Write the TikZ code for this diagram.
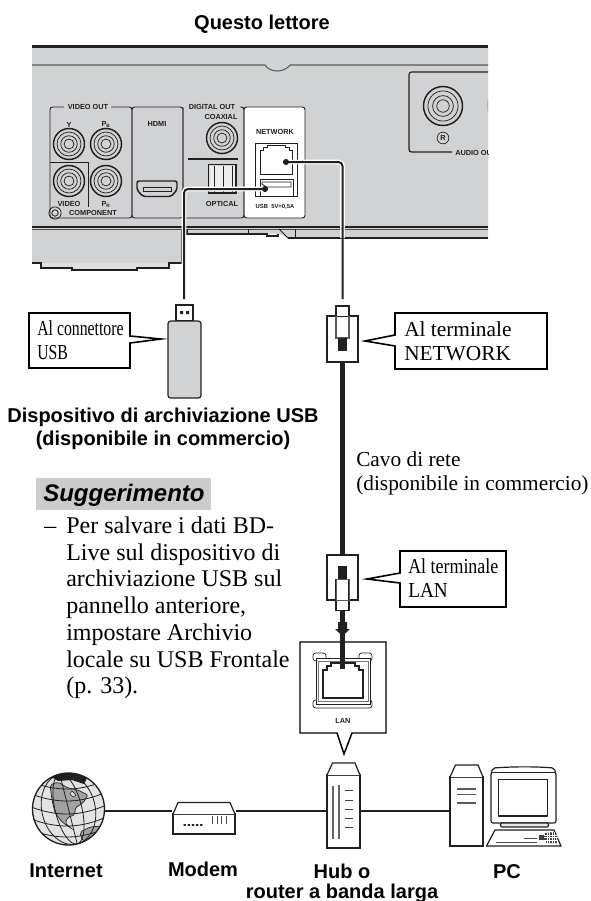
\documentclass[tikz,border=0pt]{standalone}
\usepackage{fontspec}
\setmainfont{Liberation Serif}
\newfontfamily\arialf{Liberation Sans}
\usetikzlibrary{calc}
\definecolor{panelgray}{HTML}{D1D2D4}
\definecolor{inkblack}{HTML}{231F20}
\definecolor{landgray}{HTML}{A0A2A4}
\definecolor{seagray}{HTML}{E2E3E4}
\newcommand{\pxfont}[1]{\fontsize{#1}{#1}\selectfont}
\newcommand{\jackat}[4]{% x,y,radius,colour
  \draw[#4,line width=1.1pt,fill=panelgray] (#1,#2) circle[radius=#3*0.75pt];
  \draw[#4,line width=.55pt] (#1,#2) circle[radius=#3*0.58pt];
  \draw[#4,line width=.55pt] (#1,#2) circle[radius=#3*0.40pt];
  \draw[#4,line width=.55pt] (#1,#2) circle[radius=#3*0.24pt];
}
\tikzset{
  x=0.75pt,y=-0.75pt,
  tiny/.style={font=\arialf\bfseries\pxfont{5.5pt},text=inkblack,inner sep=0pt,anchor=base},
  tinyw/.style={font=\arialf\bfseries\pxfont{4.4pt},text=inkblack,inner sep=0pt,anchor=base},
  captxt/.style={font=\arialf\bfseries\pxfont{15pt},text=black,inner sep=0pt,anchor=base,align=center},
  bodytxt/.style={font=\pxfont{18pt},text=black,inner sep=0pt,anchor=base west},
  calltxt/.style={font=\pxfont{16pt},text=black,inner sep=0pt,anchor=base west},
  ink/.style={draw=inkblack,line width=0.9pt,line join=round},
  thin ink/.style={draw=inkblack,line width=0.55pt},
  callout/.style={draw=black,fill=white,line width=1.2pt,line join=miter},
  plugbody/.style={draw=inkblack,fill=white,line width=0.9pt,inner sep=0pt},
  cable/.style={draw=inkblack,line width=1.5pt},
  halo/.style={draw=white,line width=3.6pt},
  fatcable/.style={draw=inkblack,line width=3.7pt},
}
\begin{document}
\begin{tikzpicture}
\useasboundingbox (0,0) rectangle (591,901);
\fill[white] (0,0) rectangle (591,901);

% ---------- panel
\fill[panelgray] (32,46) -- (488,46) -- (488,238) -- (288,238) -- (280,234) -- (187,234) -- (187,229) -- (182,229) -- (182,263) -- (32,263) -- cycle;
\fill[panelgray!70!white] (41,263) -- (169,263) -- (169,268) -- (137,268) -- (137,270) -- (72,270) -- (72,268) -- (41,268) -- cycle;
\draw[inkblack,line width=1.6pt] (32,46.5) -- (488,46.5);
\draw[black!65,line width=0.8pt] (32,65) -- (265,65) .. controls (270,73) and (284,73) .. (290,65) -- (488,65);
\draw[inkblack,line width=0.8pt] (32,227) -- (488,227);
\draw[black!70,line width=0.6pt] (32,229.5) -- (488,229.5);
\draw[inkblack,line width=0.9pt] (32,263) -- (41,263) -- (41,268) -- (72,268) -- (72,270) -- (137,270) -- (137,268) -- (169,268) -- (169,263) -- (182,263) -- (182,229);
\draw[inkblack,line width=0.9pt] (187,229) -- (187,234) -- (267,234) -- (267,236) -- (278,236) -- (278,234);
\draw[inkblack,line width=0.6pt] (248,229) -- (248,234);
\draw[inkblack,line width=0.7pt] (279,229) -- (288,238);
\draw[inkblack,line width=1.3pt] (288,238) -- (488,238);
\draw[inkblack,line width=0.6pt] (295,229) -- (295,238);

% ---------- section frames
\fill[white,rounded corners=2pt] (244,107) rectangle (305,218);
\draw[inkblack,line width=0.7pt,rounded corners=2pt] (64,107) -- (50,107) -- (50,218) -- (132,218) -- (132,107) -- (111,107);
\draw[inkblack,line width=0.7pt,rounded corners=2pt] (132,107) -- (132,218) -- (183,218) -- (183,107) -- cycle;
\draw[inkblack,line width=0.7pt,rounded corners=2pt] (183,107) -- (183,218) -- (244,218) -- (244,107) -- (240,107);
\draw[inkblack,line width=0.7pt,rounded corners=2pt] (244,107) -- (244,218) -- (305,218) -- (305,107) -- cycle;
\draw[inkblack,line width=0.7pt] (50,162) -- (88,162) -- (88,207);
\fill[panelgray] (64,105) rectangle (111,110) (186,105) rectangle (238,110);
\node[tiny] (tvideoout) at (88,109.5) {VIDEO OUT};
\node[tiny] (tdigital) at (212,109.5) {DIGITAL OUT};
\node[tiny] (tcoax) at (221,119) {COAXIAL};
\node[tiny] (thdmi) at (157,126) {HDMI};
\node[tiny] (tnet) at (275,134) {NETWORK};
\node[tiny] (ty) at (69,127) {Y};
\node[tiny] (tpb) at (106,126) {P\textsubscript{\fontsize{3.5pt}{4pt}\selectfont B}};
\node[tiny] (tvideo) at (69,206) {VIDEO};
\node[tiny] (tpr) at (106,206) {P\textsubscript{\fontsize{3.5pt}{4pt}\selectfont R}};
\node[tiny] (tcomp) at (93,215) {COMPONENT};
\node[tiny] (toptical) at (222,206) {OPTICAL};
\node[tinyw] (tusb) at (275,208) {USB\ \ 5V=0,5A};

\jackat{69}{144}{15.5}{inkblack}
\jackat{106}{144}{15.5}{inkblack}
\jackat{69}{181}{15.5}{inkblack}
\jackat{106}{181}{15.5}{inkblack}
\jackat{222}{138}{15.5}{inkblack}
\draw[inkblack,line width=.6pt] (55,213) circle[radius=4.6pt];
\draw[inkblack,line width=.6pt] (55,213) circle[radius=2.4pt];

% HDMI
\draw[inkblack,line width=1.1pt,fill=panelgray,rounded corners=1.5pt] (137,181) -- (177,181) -- (177,190) -- (171,196.5) -- (143,196.5) -- (137,190) -- cycle;
\draw[inkblack,line width=.5pt] (143,187) -- (171,187) -- (171,191) -- (143,191) -- cycle;

% digital
\draw[inkblack,line width=1.1pt] (188,159) -- (238,159);
\draw[inkblack,line width=.9pt] (208.5,164.5) rectangle (236,193);
\fill[panelgray!40!white] (210,166) rectangle (235,191);
\draw[inkblack,line width=.7pt] (214,166) -- (214,192) (223,166) -- (223,192) (232,166) -- (232,192);

% network
\draw[inkblack,line width=.6pt] (255,143) rectangle (297,196);
\draw[inkblack,line width=.7pt] (260,174) -- (260,150) -- (263,150) -- (263,147) -- (267,147) -- (267,145) -- (285,145) -- (285,147) -- (289,147) -- (289,150) -- (292,150) -- (292,174) -- cycle;
\draw[inkblack,line width=.7pt] (260,179) rectangle (293,196);
\draw[inkblack,line width=.6pt] (262,182) -- (291,182) -- (291,187) -- (266,187) -- (262,184) -- cycle;

% audio
\begin{scope}
\clip (32,46) rectangle (488,240);
\draw[inkblack,line width=.9pt,rounded corners=2pt] (500,72) -- (409,72) -- (409,152) -- (452,152);
\jackat{443}{106}{19.5}{inkblack}
\jackat{507}{106}{19.5}{black!30}
\node[tiny,anchor=base west] (taudio) at (455,155) {AUDIO OUT};
\draw[inkblack,line width=.5pt] (443,138) circle[radius=4.4pt];
\node[tiny] (tr) at (443,140.5) {R};
\end{scope}

% ---------- title
\node[captxt] (title) at (262,29) {Questo lettore};

% ---------- USB stick
\node[plugbody,minimum width=12.75pt,minimum height=12pt] (usbplug) at (184.5,313) {};
\fill[inkblack] (180,311) rectangle (183,314) (186,311) rectangle (189,314);
\node[draw=inkblack,fill=panelgray,line width=.9pt,rounded corners=2pt,inner sep=0pt,minimum width=24.75pt,minimum height=57.75pt] (stick) at (184.5,359.5) {};
\coordinate (usbend) at (184,299);
\coordinate (usbdot) at (265,189);
\coordinate (netdot) at (286,162);
\coordinate (netend) at (342.5,299);

% ---------- connector cables
\draw[halo,rounded corners=3pt] (usbdot) -| (184,264);
\draw[halo,rounded corners=3pt] (netdot) -| (342.5,238);
\draw[cable,rounded corners=3pt] (usbdot) -| (usbend);
\draw[cable,rounded corners=3pt] (netdot) -| (netend);
\fill[inkblack] (usbdot) circle[radius=2.3pt];
\fill[inkblack] (netdot) circle[radius=2.3pt];

% ---------- plugs
\node[plugbody,minimum width=23.25pt,minimum height=34.5pt] (netplug) at (342.5,339) {};
\node[plugbody,minimum width=23.25pt,minimum height=33.75pt] (lanplug) at (342.5,577.5) {};
\draw[fatcable] (netplug.south) -- (lanplug.north);
% network plug details
\fill[white] (336,306) rectangle (349,316);
\draw[inkblack,line width=.9pt] (336,316) -- (336,306) -- (349,306) -- (349,316);
\draw[black!65,line width=.8pt] (336,316) -- (336,338) -- (349,338) -- (349,316);
\fill[inkblack] (338,338) rectangle (347,351);
% LAN plug details
\fill[inkblack] (338,566) rectangle (347,579);
\node[plugbody,minimum width=9.75pt,minimum height=23.25pt] (lantail) at (342.5,595) {};
\draw[black!65,line width=.7pt] (336,579) rectangle (349,600);

% ---------- LAN socket callout
\coordinate (lantip) at (344,754);
\draw[callout,line width=1.1pt] (300,642) -- (386,642) -- (386,733) -- (352,733) -- (lantip) -- (337,733) -- (300,733) -- cycle;
\draw[inkblack,line width=.55pt,rounded corners=2pt] (313,653) rectangle (326,661);
\draw[inkblack,line width=.55pt,rounded corners=2pt] (359,653) rectangle (372,661);
\draw[inkblack,line width=.55pt,rounded corners=2pt] (313,700) rectangle (372,708);
\draw[inkblack,fill=white,line width=.6pt] (316,658) rectangle (370,704);
\draw[black!55,line width=.5pt] (318,661) rectangle (368,701);
\draw[inkblack,line width=.9pt] (323,698) -- (323,670) -- (327,670) -- (327,666) -- (331,666) -- (331,663) -- (355,663) -- (355,666) -- (359,666) -- (359,670) -- (363,670) -- (363,698) -- cycle;
\node[tiny] (tlan) at (343,723) {LAN};
\draw[fatcable] (lantail.south) -- (342.5,669);
\fill[inkblack] (338,622) -- (347,622) -- (347,629) -- (350,629) -- (342.5,636) -- (335,629) -- (338,629) -- cycle;

% ---------- callouts
\coordinate (usbtip) at (161,339);
\coordinate (nettip) at (365,341);
\coordinate (lancalltip) at (367,579);
\draw[callout] (29,313) -- (130,313) -- (130,336) -- (usbtip) -- (130,343) -- (130,368) -- (29,368) -- cycle;
\draw[callout] (395,313) -- (547,313) -- (547,369) -- (395,369) -- (395,346) -- (nettip) -- (395,335) -- cycle;
\draw[callout] (400,551) -- (506,551) -- (506,607) -- (400,607) -- (400,583) -- (lancalltip) -- (400,573) -- cycle;
\node[calltxt] (cu1) at (37,335) {\scalebox{.74}[1]{Al connettore}};
\node[calltxt] (cu2) at (37,359) {\scalebox{.74}[1]{USB}};
\node[calltxt] (cn1) at (404,336) {Al terminale};
\node[calltxt] (cn2) at (404,360) {NETWORK};
\node[calltxt] (cl1) at (408,573) {\scalebox{.84}[1]{Al terminale}};
\node[calltxt] (cl2) at (408,597) {\scalebox{.9}[1]{LAN}};

\node[captxt] (dev) at (163,422) {Dispositivo di archiviazione USB};
\node[captxt] (dev2) at (163,445) {(disponibile in commercio)};
\node[calltxt] (cavo1) at (356,466) {Cavo di rete};
\node[calltxt] (cavo2) at (356,490) {(disponibile in commercio)};

% ---------- Suggerimento
\fill[black!20] (36,478) rectangle (211,510);
\node[font=\arialf\bfseries\itshape\pxfont{18pt},inner sep=0pt,anchor=base west] (sugg) at (43,501) {Suggerimento};
\node[bodytxt] (dash) at (44,533) {–};
\node[bodytxt] (b1) at (66,533) {Per salvare i dati BD-};
\node[bodytxt] (b2) at (66,560) {Live sul dispositivo di};
\node[bodytxt] (b3) at (66,586) {archiviazione USB sul};
\node[bodytxt] (b4) at (66,613) {pannello anteriore,};
\node[bodytxt] (b5) at (66,640) {impostare Archivio};
\node[bodytxt] (b6) at (66,667) {locale su USB Frontale};
\node[bodytxt] (b7) at (66,693) {(p. 33).};

% ---------- bottom row devices
\coordinate (globe) at (68.5,809);
\node[inner sep=0pt,minimum size=54pt,circle] (globen) at (globe) {};
\node[draw=inkblack,fill=white,line width=.9pt,inner sep=0pt,minimum width=46.5pt,minimum height=15pt] (modem) at (204,824) {};
\node[draw=inkblack,fill=white,line width=.9pt,inner sep=0pt,minimum width=24.75pt,minimum height=54.75pt] (hub) at (343.5,811.5) {};
\node[draw=inkblack,fill=white,line width=.9pt,inner sep=0pt,minimum width=24.75pt,minimum height=51.75pt] (tower) at (466.5,811.5) {};

\draw[inkblack,line width=1.4pt] (globen.east |- 0,811) -- (modem.west |- 0,811);
\draw[inkblack,line width=1.4pt] (modem.east |- 0,811) -- (hub.west |- 0,811);
\draw[inkblack,line width=1.4pt] (hub.east |- 0,811) -- (tower.west |- 0,811);

% modem
\draw[ink,fill=white] (173,814) -- (178,802.5) -- (230,802.5) -- (235,814);
\draw[inkblack,line width=1.1pt,dotted,line cap=round] (184,825) -- (202,825);
\draw[black!70,line width=.7pt] \foreach \i in {212,217,221,226} {(\i,816) -- (\i,824)};
% hub
\draw[ink,fill=white] (327,775) -- (332.5,763) -- (355,763) -- (360,775);
\draw[black!60,line width=.9pt] (333,786) -- (333,839) (339,785) -- (339,839);
\draw[black!75,line width=.7pt] \foreach \y in {790.5,800,809,818.5,827.5} {(345,\y) -- (353,\y)};
\draw[ink,fill=white] (450,777) -- (455.5,765) -- (478,765) -- (483,777);
\draw[black!65,line width=.8pt] (457,789) -- (476,789) (457,794.5) -- (476,794.5) (457,803) -- (476,803);

% monitor
\draw[ink,fill=white,rounded corners=1.5pt] (491,823) -- (491,773) -- (493,768) .. controls (515,766.5) and (535,766.5) .. (554,768) -- (556,773) -- (556,823) -- cycle;
\draw[thin ink] (491,772.5) -- (556,772.5);
\draw[ink] (498.5,779.5) rectangle (547.5,816);
\draw[ink,fill=panelgray!50!white,rounded corners=1pt] (500.5,823) rectangle (548.5,827);
% keyboard
\draw[ink,fill=white] (486.5,846) -- (495,830) -- (554,830) -- (561,846) -- cycle;
\draw[black!70,line width=.7pt] (496,842) -- (537,842) (524,838.5) -- (537,838.5);
\fill[black!75] (539,835) rectangle (546,840);
\fill[black!75] (545,833) -- (555,832) -- (557,843) -- (546,843) -- cycle;
\draw[white,line width=.3pt] \foreach \i in {547,549.5,552,554.5} {(\i,832) -- (\i,843)} \foreach \j in {835,837.5,840} {(544,\j) -- (558,\j)};

% globe
\begin{scope}
\clip (globe) circle[radius=27pt];
\fill[seagray] (globe) circle[radius=27pt];
\fill[landgray,draw=inkblack,line width=.5pt,rounded corners=1.5pt] (50,785) -- (58,782) -- (68,788) -- (78,790) -- (88,795) -- (83,803) -- (75,808) -- (75,815) -- (68,817) -- (65,823) -- (72,829) -- (62,822) -- (55,813) -- (52,800) -- cycle;
\fill[landgray,draw=inkblack,line width=.5pt,rounded corners=1.5pt] (80,832) -- (90,827) -- (102,826) -- (98,835) -- (88,843) -- (82,840) -- cycle;
\fill[seagray,draw=inkblack,line width=.4pt] (72,791) -- (76,795) -- (73,797) -- (70,794) -- cycle;
\fill[inkblack] (28,773) rectangle (110,776);
\fill[inkblack] (50,776) -- (88,776) -- (84,784) -- (72,780) -- (58,781) -- cycle;
\foreach \r in {10,20}{
  \draw[inkblack,line width=.6pt,rotate around={14:(globe)}] (globe) ellipse[x radius=\r pt,y radius=27pt];
}
\draw[inkblack,line width=.6pt,rotate around={14:(globe)}] ($(globe)+(0,-40)$) -- ($(globe)+(0,40)$);
\foreach \y in {-22,-10,3,15,26}{
  \draw[inkblack,line width=.6pt] ($(globe)+(-40,\y-6)$) .. controls ($(globe)+(-12,\y+5)$) and ($(globe)+(12,\y+5)$) .. ($(globe)+(40,\y-8)$);
}
\end{scope}
\draw[inkblack,line width=1pt] (globe) circle[radius=27pt];

% ---------- bottom labels
\node[captxt] (linternet) at (66,877) {Internet};
\node[captxt] (lmodem) at (203,876) {Modem};
\node[captxt] (lhub) at (342,878) {Hub o};
\node[captxt] (lrouter) at (342,898) {router a banda larga};
\node[captxt] (lpc) at (507,878) {PC};
\end{tikzpicture}
\end{document}
